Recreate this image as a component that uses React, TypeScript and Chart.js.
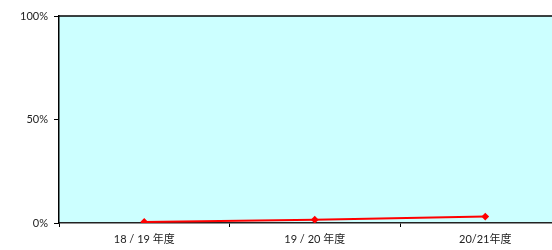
import React, { useEffect, useRef } from "react";
import { Chart, registerables } from "chart.js";
Chart.register(...registerables);

const categories = ["18 / 19 年度", "19 / 20 年度", "20/21年度"];
const values = [0.5, 1.6, 3.1];
const yTicks = [0, 50, 100];

const FONT = "'Lato', 'Noto Sans CJK SC', sans-serif";

const bgPlugin = {
  id: "bgPlugin",
  beforeDraw(chart: any) {
    const { ctx, chartArea } = chart;
    ctx.save();
    ctx.fillStyle = "#CCFFFF";
    ctx.fillRect(chartArea.left, chartArea.top, chartArea.right - chartArea.left, chartArea.bottom - chartArea.top);
    ctx.restore();
  },
  afterDatasetsDraw(chart: any) {
    const { ctx, chartArea } = chart;
    ctx.save();
    ctx.strokeStyle = "#000";
    ctx.lineWidth = 1.5;
    ctx.beginPath();
    ctx.moveTo(chartArea.left, chartArea.top);
    ctx.lineTo(chartArea.right, chartArea.top);
    ctx.stroke();
    ctx.restore();
  },
};

export default function App() {
  const ref = useRef<HTMLCanvasElement>(null);
  useEffect(() => {
    const chart = new Chart(ref.current!, {
      type: "line",
      data: {
        labels: categories,
        datasets: [
          {
            data: values,
            borderColor: "#FF0000",
            backgroundColor: "#FF0000",
            borderWidth: 2,
            pointStyle: "rectRot",
            pointRadius: 2.5,
            pointHoverRadius: 2.5,
            tension: 0,
          },
        ],
      },
      options: {
        animation: false,
        responsive: false,
        maintainAspectRatio: false,
        layout: { padding: { top: 16, right: 0, left: 0, bottom: 0 } },
        plugins: { legend: { display: false }, tooltip: { enabled: false } },
        scales: {
          x: {
            offset: true,
            grid: { offset: true, drawOnChartArea: false, tickLength: 4, color: "#000", tickColor: "#000" },
            border: { color: "#222", width: 1.5 },
            ticks: { color: "#222", font: { family: FONT, size: 11 }, padding: 6, maxRotation: 0 },
            afterFit(scale: any) { scale.height = 27; },
          },
          y: {
            min: 0,
            max: 100,
            afterBuildTicks(scale: any) { scale.ticks = yTicks.map((v) => ({ value: v })); },
            grid: { drawOnChartArea: false, tickLength: 5, color: "#000", tickColor: "#000" },
            border: { color: "#000", width: 1.5 },
            ticks: { color: "#222", font: { family: FONT, size: 11 }, padding: 6, callback: (v: any) => v + "%" },
            afterFit(scale: any) { scale.width = 59; },
          },
        },
      },
      plugins: [bgPlugin],
    });
    return () => chart.destroy();
  }, []);
  return (
    <div style={{ position: "fixed", left: 0, top: 0, width: 552, height: 250, overflow: "hidden", background: "#fff" }}>
      <canvas ref={ref} width={575} height={250} style={{ display: "block", width: 575, height: 250 }} />
    </div>
  );
}
